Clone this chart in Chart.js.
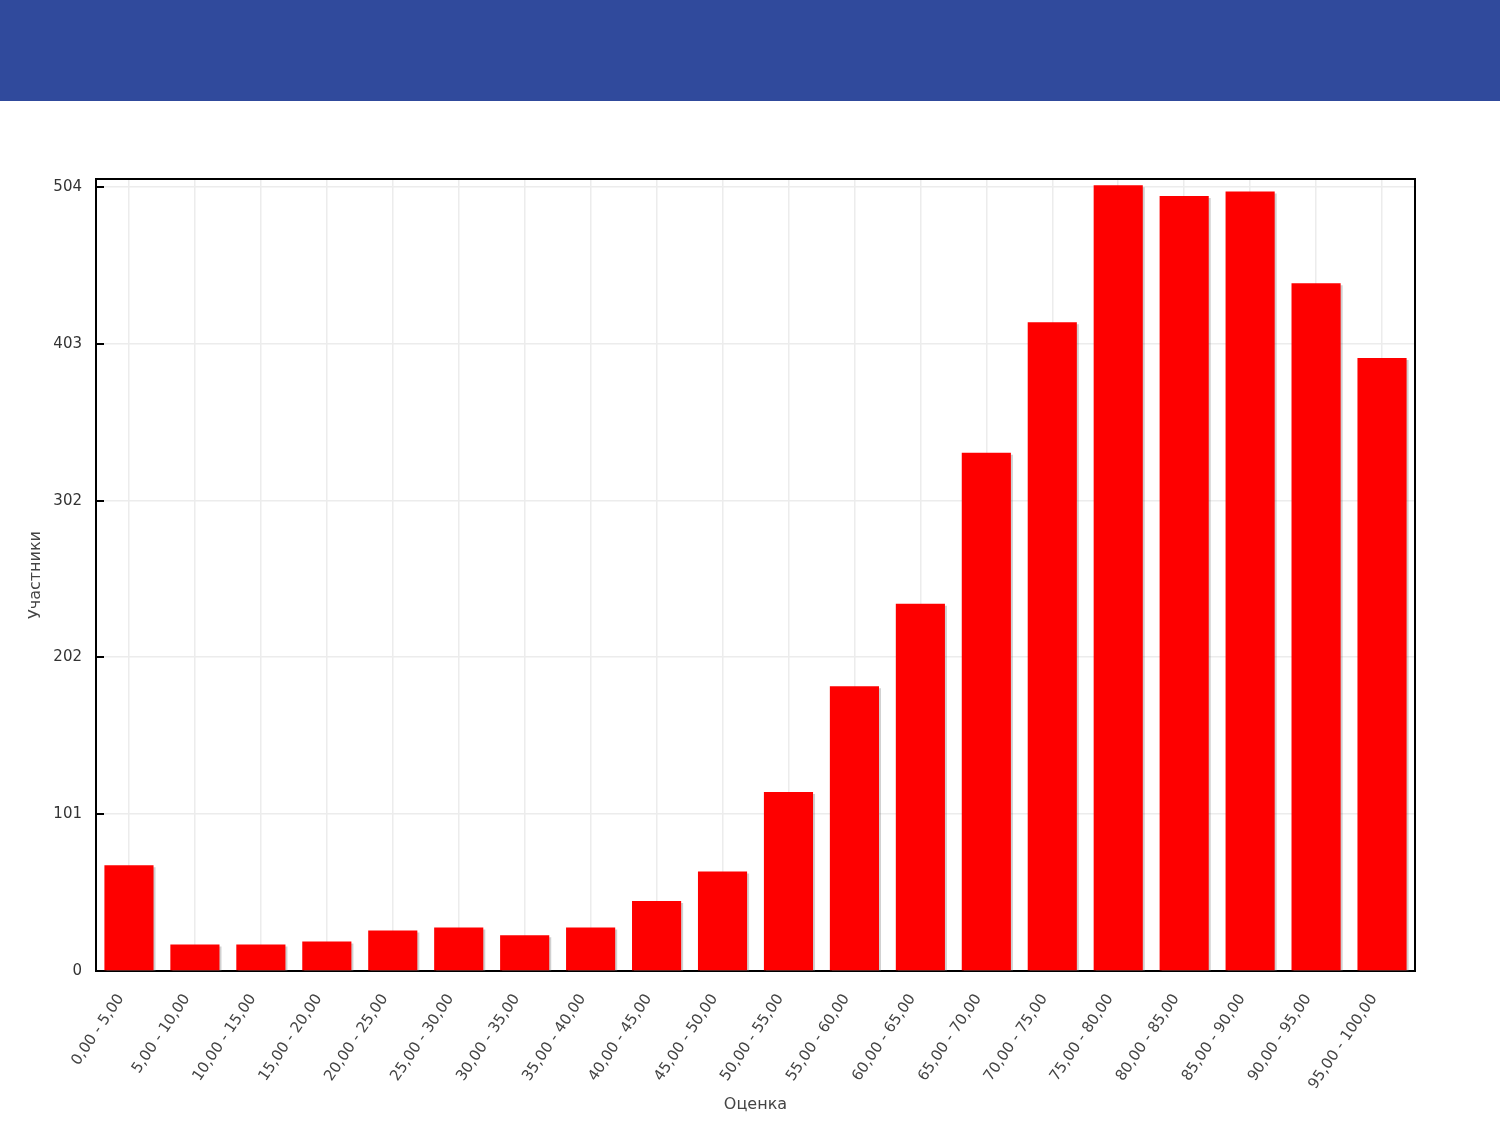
<!DOCTYPE html>
<html lang="ru">
  <head>
    <meta charset="UTF-8" />
    <title>Распределение оценок</title>
    <script src="https://cdn.jsdelivr.net/npm/chart.js"></script>
    <style>
      html, body { margin: 0; padding: 0; background: #fff; }
      #banner { width: 1500px; height: 101px; background: #304a9c; }
      #wrap { position: relative; width: 1500px; height: 1024px; }
    </style>
  </head>
  <body>
    <div id="banner"></div>
    <div id="wrap"><canvas id="scoreChart"></canvas></div>

    <script>
      const scoreLabels = [
        "0,00 - 5,00", "5,00 - 10,00", "10,00 - 15,00", "15,00 - 20,00",
        "20,00 - 25,00", "25,00 - 30,00", "30,00 - 35,00", "35,00 - 40,00",
        "40,00 - 45,00", "45,00 - 50,00", "50,00 - 55,00", "55,00 - 60,00",
        "60,00 - 65,00", "65,00 - 70,00", "70,00 - 75,00", "75,00 - 80,00",
        "80,00 - 85,00", "85,00 - 90,00", "90,00 - 95,00", "95,00 - 100,00",
      ];
      const participants = [
        68, 17, 17, 19, 26, 28, 23, 28, 45, 64,
        115, 183, 236, 333, 417, 505, 498, 501, 442, 394,
      ];
      const yTicks = [0, 101, 202, 302, 403, 504];
      const yMax = 509;

      Chart.defaults.font.family = "'DejaVu Sans', sans-serif";
      Chart.defaults.color = "#333";

      // рамка графика, внутренние засечки по оси Y и тень столбцов
      const framePlugin = {
        id: "frame",
        beforeDatasetsDraw(chart) {
          const { ctx, chartArea: a, scales } = chart;
          ctx.save();
          ctx.strokeStyle = "#000";
          ctx.lineWidth = 2;
          ctx.strokeRect(a.left, a.top, a.right - a.left, a.bottom - a.top);
          yTicks.forEach((v) => {
            const y = Math.round(scales.y.getPixelForValue(v));
            ctx.beginPath();
            ctx.moveTo(a.left, y);
            ctx.lineTo(a.left + 8, y);
            ctx.stroke();
          });
          ctx.restore();

          ctx.save();
          ctx.shadowColor = "rgba(120, 120, 120, 0.35)";
          ctx.shadowOffsetX = 2;
          ctx.shadowOffsetY = 2;
          ctx.shadowBlur = 0;
        },
        afterDatasetsDraw(chart) {
          chart.ctx.restore();
        },
      };

      const ctx = document.getElementById("scoreChart").getContext("2d");

      new Chart(ctx, {
        type: "bar",
        data: {
          labels: scoreLabels,
          datasets: [
            {
              label: "Участники",
              data: participants,
              backgroundColor: "#fe0000",
              borderWidth: 0,
              categoryPercentage: 1,
              barPercentage: 0.745,
            },
          ],
        },
        options: {
          responsive: true,
          maintainAspectRatio: false,
          animation: false,
          layout: { padding: { top: 78, right: 85, left: 0, bottom: 0 } },
          plugins: {
            legend: { display: false },
            tooltip: { enabled: false },
          },
          scales: {
            x: {
              grid: { offset: false, color: "#ececec", lineWidth: 1.5, drawTicks: false },
              border: { display: false },
              ticks: {
                autoSkip: false,
                minRotation: 56,
                maxRotation: 56,
                padding: 20,
                labelOffset: -8,
                font: { size: 15 },
                color: "#444",
              },
              title: {
                display: true,
                text: "Оценка",
                font: { size: 16 },
                color: "#444",
                padding: { top: 11, bottom: 11 },
              },
              afterFit(scale) {
                scale.height = 154;
              },
            },
            y: {
              min: 0,
              max: yMax,
              grid: { color: "#ececec", lineWidth: 1.5, drawTicks: false },
              border: { display: false },
              afterBuildTicks(scale) {
                scale.ticks = yTicks.map((v) => ({ value: v }));
              },
              ticks: {
                padding: 14,
                font: { size: 15 },
                color: "#333",
              },
              title: {
                display: true,
                text: "Участники",
                font: { size: 16 },
                color: "#444",
                padding: { top: 26, bottom: 0 },
              },
              afterFit(scale) {
                scale.width = 96;
              },
            },
          },
        },
        plugins: [framePlugin],
      });
    </script>
  </body>
</html>
